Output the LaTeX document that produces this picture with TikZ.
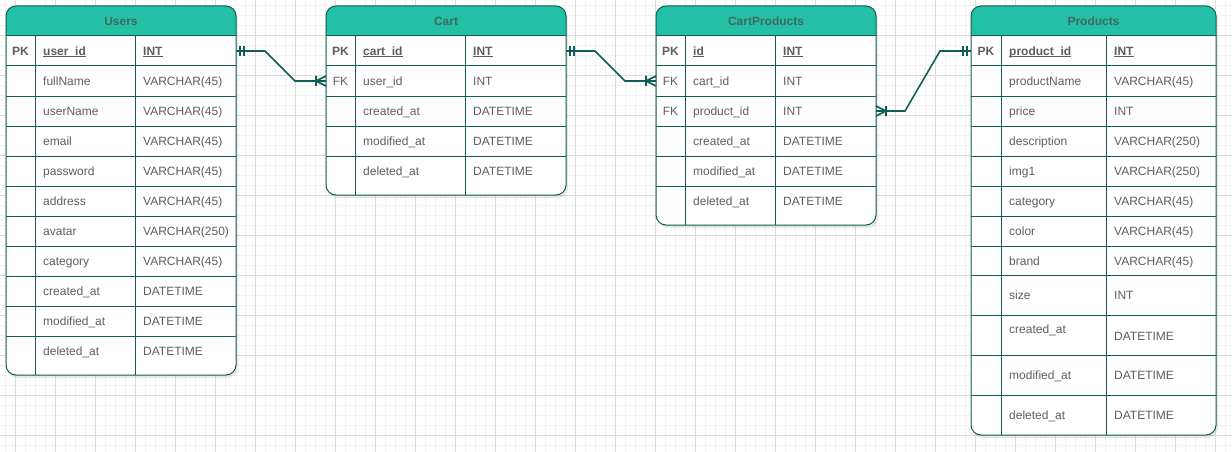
\documentclass[tikz,border=0pt]{standalone}
\usepackage{fontspec}
\setmainfont{Liberation Sans}
\usetikzlibrary{shadows,decorations.markings}

\definecolor{headteal}{RGB}{35,192,166}
\definecolor{lineteal}{RGB}{14,94,86}
\definecolor{textgray}{RGB}{94,94,94}
\definecolor{headgray}{RGB}{66,104,98}

\newcommand{\keyul}[1]{\underline{\smash{#1}}}

\tikzset{
  tablebox/.style={fill=white, rounded corners=10pt,
    drop shadow={shadow xshift=2pt, shadow yshift=-3pt, opacity=.18}},
  tableframe/.style={draw=lineteal, line width=1pt, rounded corners=10pt},
  cellline/.style={draw=lineteal, line width=1pt},
  headfill/.style={fill=headteal},
  headtext/.style={font=\fontsize{12pt}{14pt}\selectfont\bfseries, text=headgray},
  celltext/.style={font=\fontsize{12pt}{14pt}\selectfont, text=textgray,
    anchor=base west, inner sep=0pt, yshift=-4.3pt},
  keytext/.style={celltext, font=\fontsize{12pt}{14pt}\selectfont\bfseries},
  keylabel/.style={celltext, anchor=base},
  pklabel/.style={keylabel, font=\fontsize{12pt}{14pt}\selectfont\bfseries},
  gridminor/.style={draw=black!5, line width=.5pt},
  gridmajor/.style={draw=black!14, line width=.6pt},
  relbar/.style={draw=lineteal, line width=1.6pt},
  rel/.style={draw=lineteal, line width=1.6pt,
    postaction={decorate, decoration={markings,
      mark=at position 4pt with {\draw[relbar] (0,-5pt) -- (0,5pt);},
      mark=at position 8pt with {\draw[relbar] (0,-5pt) -- (0,5pt);},
      mark=at position -10pt with {\draw[relbar] (0,-5pt) -- (0,5pt)
        (10pt,-5pt) -- (0,0) -- (10pt,5pt);}}}}
}

\begin{document}
\begin{tikzpicture}[x=1pt,y=-1pt]
\useasboundingbox (0,0) rectangle (1232,452);
% background grid
\foreach \x in {5,15,...,1225} \draw[gridminor] (\x,0) -- (\x,452);
\foreach \y in {5,15,...,445} \draw[gridminor] (0,\y) -- (1232,\y);
\foreach \x in {15,55,...,1215} \draw[gridmajor] (\x,0) -- (\x,452);
\foreach \y in {35,75,...,435} \draw[gridmajor] (0,\y) -- (1232,\y);

% ---- Users ----
\path[tablebox] (6,6) rectangle (236,375);
\fill[headfill] (6,36) [rounded corners=10pt] -- (6,6) -- (236,6) [sharp corners] -- (236,36) -- cycle;
\node[headtext] (users) at (121,21) {Users};
\foreach \y in {36,66,...,336} \draw[cellline] (6,\y) -- (236,\y);
\draw[cellline] (35,36) -- (35,375);
\draw[cellline] (135,36) -- (135,375);
\draw[tableframe] (6,6) rectangle (236,375);
\node[pklabel] (users-pk) at (20.5,51) {PK};
\node[keytext] (users-n0) at (43,51) {\keyul{user\_id}};
\node[keytext] (users-t0) at (143,51) {\keyul{INT}};
\foreach \n/\t [count=\i, evaluate=\i as \yc using 51+30*\i] in
  {fullName/VARCHAR(45), userName/VARCHAR(45), email/VARCHAR(45),
   password/VARCHAR(45), address/VARCHAR(45), avatar/VARCHAR(250),
   category/VARCHAR(45), created\_at/DATETIME, modified\_at/DATETIME,
   deleted\_at/DATETIME} {
  \node[celltext] (users-n\i) at (43,\yc) {\n};
  \node[celltext] (users-t\i) at (143,\yc) {\t};
}
\coordinate (users-r1) at (236,51);

% ---- Cart ----
\path[tablebox] (326,6) rectangle (566,195);
\fill[headfill] (326,36) [rounded corners=10pt] -- (326,6) -- (566,6) [sharp corners] -- (566,36) -- cycle;
\node[headtext] (cart) at (446,21) {Cart};
\foreach \y in {36,66,...,156} \draw[cellline] (326,\y) -- (566,\y);
\draw[cellline] (355,36) -- (355,195);
\draw[cellline] (465,36) -- (465,195);
\draw[tableframe] (326,6) rectangle (566,195);
\node[pklabel] (cart-pk) at (340.5,51) {PK};
\node[keylabel] (cart-fk) at (340.5,81) {FK};
\node[keytext] (cart-n0) at (363,51) {\keyul{cart\_id}};
\node[keytext] (cart-t0) at (473,51) {\keyul{INT}};
\foreach \n/\t [count=\i, evaluate=\i as \yc using 51+30*\i] in
  {user\_id/INT, created\_at/DATETIME, modified\_at/DATETIME, deleted\_at/DATETIME} {
  \node[celltext] (cart-n\i) at (363,\yc) {\n};
  \node[celltext] (cart-t\i) at (473,\yc) {\t};
}
\coordinate (cart-r1) at (566,51);
\coordinate (cart-l2) at (326,81);

% ---- CartProducts ----
\path[tablebox] (656,6) rectangle (876,225);
\fill[headfill] (656,36) [rounded corners=10pt] -- (656,6) -- (876,6) [sharp corners] -- (876,36) -- cycle;
\node[headtext] (cp) at (766,21) {CartProducts};
\foreach \y in {36,66,...,186} \draw[cellline] (656,\y) -- (876,\y);
\draw[cellline] (685,36) -- (685,225);
\draw[cellline] (775,36) -- (775,225);
\draw[tableframe] (656,6) rectangle (876,225);
\node[pklabel] (cp-pk) at (670.5,51) {PK};
\node[keylabel] (cp-fk1) at (670.5,81) {FK};
\node[keylabel] (cp-fk2) at (670.5,111) {FK};
\node[keytext] (cp-n0) at (693,51) {\keyul{id}};
\node[keytext] (cp-t0) at (783,51) {\keyul{INT}};
\foreach \n/\t [count=\i, evaluate=\i as \yc using 51+30*\i] in
  {cart\_id/INT, product\_id/INT, created\_at/DATETIME, modified\_at/DATETIME,
   deleted\_at/DATETIME} {
  \node[celltext] (cp-n\i) at (693,\yc) {\n};
  \node[celltext] (cp-t\i) at (783,\yc) {\t};
}
\coordinate (cp-l2) at (656,81);
\coordinate (cp-r3) at (876,111);

% ---- Products ----
\path[tablebox] (971,6) rectangle (1216,435);
\fill[headfill] (971,36) [rounded corners=10pt] -- (971,6) -- (1216,6) [sharp corners] -- (1216,36) -- cycle;
\node[headtext] (prod) at (1093.5,21) {Products};
\foreach \y in {36,66,...,246,275,315,355,395} \draw[cellline] (971,\y) -- (1216,\y);
\draw[cellline] (1001,36) -- (1001,435);
\draw[cellline] (1106,36) -- (1106,435);
\draw[tableframe] (971,6) rectangle (1216,435);
\node[pklabel] (prod-pk) at (986,51) {PK};
\node[keytext] (prod-n0) at (1009,51) {\keyul{product\_id}};
\node[keytext] (prod-t0) at (1114,51) {\keyul{INT}};
\foreach \yc/\n/\t [count=\i] in
  {81/productName/VARCHAR(45), 111/price/INT, 141/description/VARCHAR(250),
   171/img1/VARCHAR(250), 201/category/VARCHAR(45), 231/color/VARCHAR(45),
   261/brand/VARCHAR(45), 295/size/INT, 375/modified\_at/DATETIME,
   415/deleted\_at/DATETIME} {
  \node[celltext] (prod-n\i) at (1009,\yc) {\n};
  \node[celltext] (prod-t\i) at (1114,\yc) {\t};
}
% created_at sits higher than its type
\node[celltext] (prod-n11) at (1009,329) {created\_at};
\node[celltext] (prod-t11) at (1114,336) {DATETIME};
\coordinate (prod-l1) at (971,51);

% relations
\draw[rel] (users-r1) -- ++(29,0) -- ([xshift=-31pt]cart-l2) -- (cart-l2);
\draw[rel] (cart-r1) -- ++(29,0) -- ([xshift=-31pt]cp-l2) -- (cp-l2);
\draw[rel] (prod-l1) -- ++(-31,0) -- ([xshift=29pt]cp-r3) -- (cp-r3);
\end{tikzpicture}
\end{document}
